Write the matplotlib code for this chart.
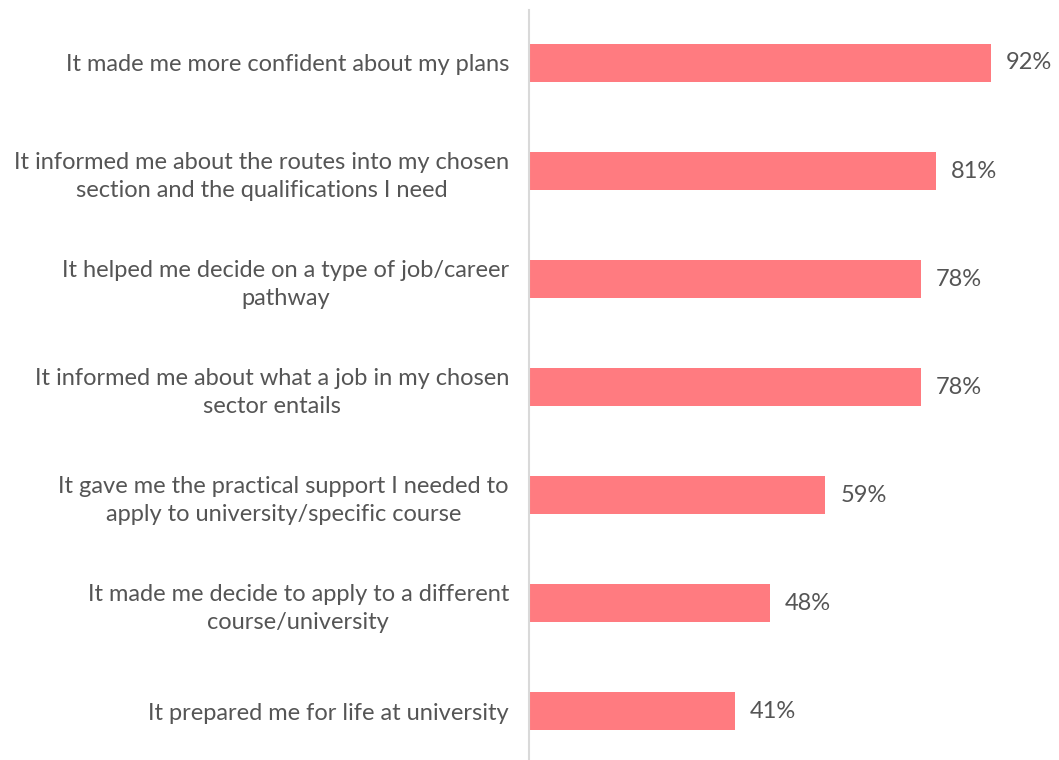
import matplotlib.pyplot as plt
from matplotlib.transforms import offset_copy

plt.rcParams['font.family'] = ['Lato', 'DejaVu Sans']

statements = [
    "It made me more confident about my plans",
    "It informed me about the routes into my chosen\nsection and the qualifications I need",
    "It helped me decide on a type of job/career\npathway",
    "It informed me about what a job in my chosen\nsector entails",
    "It gave me the practical support I needed to\napply to university/specific course",
    "It made me decide to apply to a different\ncourse/university",
    "It prepared me for life at university",
]
shares = [92, 81, 78, 78, 59, 48, 41]

bar_color = '#FF7B80'
text_color = '#555555'

fig = plt.figure(figsize=(10.59, 7.6), dpi=100)
ax = fig.add_axes([529 / 1059, 0, 1 - 529 / 1059, 1 - 10 / 760])

ypos = list(range(len(statements)))
ax.barh(ypos, shares, height=0.35, color=bar_color, zorder=2)

ax.set_xlim(0, 105.5)
ax.set_ylim(6.45, -0.49)

for y, v in zip(ypos, shares):
    ax.text(v, y, f'{v}%', transform=offset_copy(ax.transData, fig=fig, x=15, y=0, units='dots'),
            va='center', ha='left', fontsize=17, color=text_color)

ax.set_yticks(ypos)
ax.set_yticklabels(statements, fontsize=17, color=text_color, linespacing=1.4,
                   ha='right', multialignment='center')
ax.tick_params(axis='y', length=0, pad=14.4)
ax.set_xticks([])

for side in ['top', 'right', 'bottom']:
    ax.spines[side].set_visible(False)
ax.spines['left'].set_color('#d9d9d9')
ax.spines['left'].set_linewidth(1.5)

fig.savefig('out.png', dpi=100)
